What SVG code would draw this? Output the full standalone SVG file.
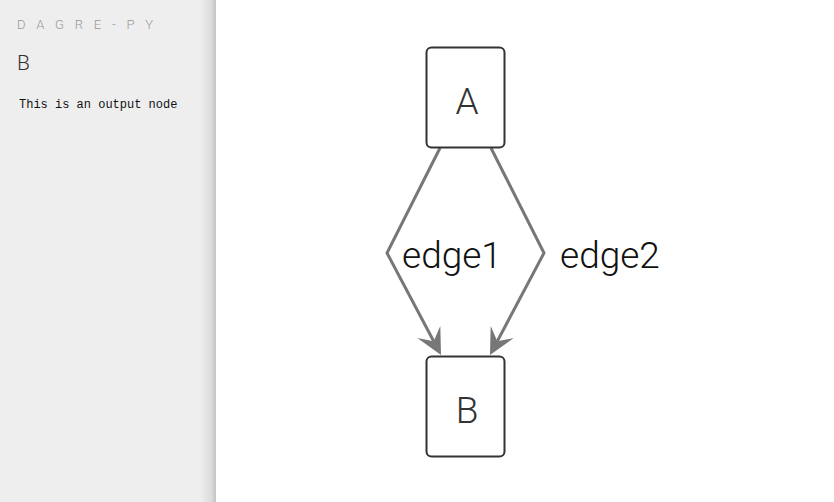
<svg xmlns="http://www.w3.org/2000/svg" width="834" height="502" viewBox="0 0 834 502">
  <style>
    .node rect { fill: #fff; stroke: #333; stroke-width: 2; }
    .node text { font-family: Roboto, "Liberation Sans", sans-serif; font-weight: 300; font-size: 37px; fill: #333; text-anchor: middle; }
    .edge { fill: none; stroke: #777; stroke-width: 3; stroke-linejoin: miter; }
    .elabel { font-family: Roboto, "Liberation Sans", sans-serif; font-weight: 300; font-size: 37px; fill: #111; }
    .title { font-family: Roboto, "Liberation Sans", sans-serif; font-weight: 300; font-size: 13px; fill: #999; letter-spacing: 10.8px; }
    .sub { font-family: Roboto, "Liberation Sans", sans-serif; font-weight: 300; font-size: 21px; fill: #333; }
    .mono { font-family: "Liberation Mono", monospace; font-size: 12px; fill: #111; }
  </style>
  <defs>
    <linearGradient id="shadow" x1="0" y1="0" x2="1" y2="0">
      <stop offset="0" stop-color="#eeeeee"/>
      <stop offset="0.7" stop-color="#dcdcdc"/>
      <stop offset="1" stop-color="#c4c4c4"/>
    </linearGradient>
    <marker id="vee" viewBox="0 0 10 10" refX="4" refY="5" markerUnits="userSpaceOnUse" markerWidth="26" markerHeight="27" orient="auto">
      <path d="M0,0 L10,5 L0,10 L4,5 z" fill="#777"/>
    </marker>
  </defs>
  <rect x="0" y="0" width="834" height="502" fill="#fff"/>
  <g id="sidebar">
    <rect x="0" y="0" width="216" height="502" fill="#eeeeee"/>
    <rect x="200" y="0" width="16" height="502" fill="url(#shadow)"/>
    <text class="title" x="17" y="29">DAGRE-PY</text>
    <text class="sub" x="17" y="70">B</text>
    <text class="mono" x="19" y="108">This is an output node</text>
  </g>
  <g id="edges">
    <g id="edge1">
      <polyline class="edge" points="440,148 387,253 433.7,341.2" marker-end="url(#vee)"/>
      <text class="elabel" x="402" y="268">edge1</text>
    </g>
    <g id="edge2">
      <polyline class="edge" points="491,148 544,253 497.3,341.2" marker-end="url(#vee)"/>
      <text class="elabel" x="560" y="268">edge2</text>
    </g>
  </g>
  <g id="node-A" class="node">
    <rect x="426.5" y="47.5" width="78" height="100" rx="5"/>
    <text x="467" y="114">A</text>
  </g>
  <g id="node-B" class="node">
    <rect x="426.5" y="356.5" width="78" height="100" rx="5"/>
    <text x="467" y="423">B</text>
  </g>
</svg>
